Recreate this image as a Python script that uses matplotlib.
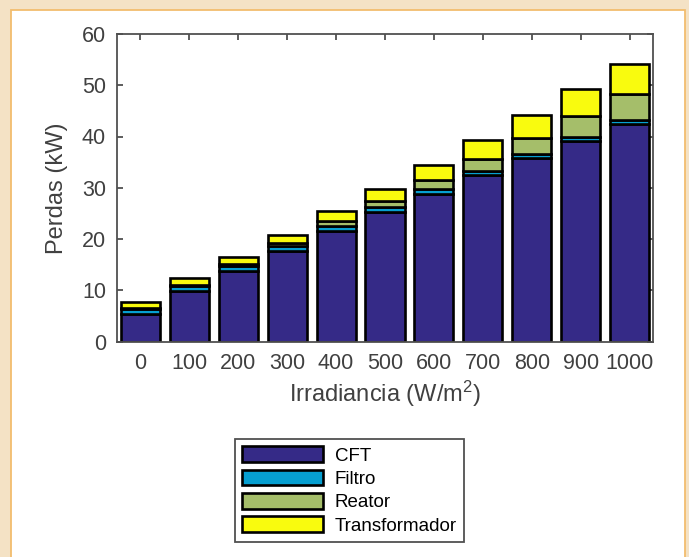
import matplotlib
matplotlib.use("Agg")
import matplotlib.pyplot as plt
from matplotlib.patches import Rectangle
import numpy as np

plt.rcParams['font.family'] = ['Liberation Sans', 'DejaVu Sans']
plt.rcParams['mathtext.fontset'] = 'custom'
plt.rcParams['mathtext.rm'] = 'Liberation Sans'
plt.rcParams['mathtext.it'] = 'Liberation Sans'
plt.rcParams['mathtext.default'] = 'regular'

# Perdas por componente (kW) para cada nível de irradiância
irradiancia = ['0', '100', '200', '300', '400', '500', '600', '700', '800', '900', '1000']
cft = [5.35, 9.9, 13.8, 17.7, 21.6, 25.2, 28.8, 32.4, 35.8, 39.1, 42.4]
filtro = [1.0, 0.9, 1.0, 1.0, 0.9, 1.0, 0.9, 0.8, 0.7, 0.8, 0.8]
reator = [0.2, 0.2, 0.3, 0.5, 1.0, 1.25, 1.8, 2.5, 3.3, 4.1, 5.0]
transformador = [1.25, 1.35, 1.4, 1.6, 1.9, 2.35, 3.0, 3.6, 4.4, 5.2, 5.9]

series = [('CFT', cft, '#352a87'),
          ('Filtro', filtro, '#069fd1'),
          ('Reator', reator, '#a5be6a'),
          ('Transformador', transformador, '#f9fb0e')]

W, H = 689, 557
fig = plt.figure(figsize=(W / 100, H / 100), dpi=100)
fig.patch.set_facecolor('#f4e2c5')

# painel branco com borda laranja
panel = Rectangle((10.5 / W, -0.02), (685 - 10.5) / W, (557 - 10) / H + 0.02,
                  transform=fig.transFigure, facecolor='white',
                  edgecolor='#f2bd6e', linewidth=1.3, zorder=-10)
fig.patches.append(panel)

ax = fig.add_axes([117 / W, 1 - 341.5 / H, (653 - 117) / W, (341.5 - 34) / H])
ax.set_zorder(5)
ax.set_facecolor('white')

x = np.arange(len(irradiancia))
bottom = np.zeros(len(x))
for name, vals, color in series:
    vals = np.array(vals)
    ax.bar(x, vals, 0.8, bottom=bottom, color=color, edgecolor='black',
           linewidth=1.9, label=name, zorder=2)
    bottom += vals

ax.set_xlim(-0.48, 10.48)
ax.set_ylim(0, 60)
ax.set_xticks(x)
ax.set_xticklabels(irradiancia)
ax.set_yticks(np.arange(0, 61, 10))

axcol = '#505050'
for s in ax.spines.values():
    s.set_color(axcol)
    s.set_linewidth(1.3)
ax.tick_params(direction='in', length=4, width=1.3, color=axcol,
               labelcolor='#404040', labelsize=15.5, top=True, right=True, pad=8)

ax.set_ylabel('Perdas (kW)', fontsize=17, color='#404040', labelpad=10)
ax.set_xlabel(r'Irradiancia (W/m$^2$)', fontsize=17, color='#404040', labelpad=4)

leg = ax.legend(loc='center', bbox_to_anchor=(349.5 / W, 1 - 490.5 / H),
                bbox_transform=fig.transFigure, fontsize=13.5, frameon=True,
                fancybox=False, framealpha=1, edgecolor=axcol,
                handlelength=4.3, handleheight=0.9, labelspacing=0.27,
                handletextpad=0.65, borderpad=0.4, borderaxespad=0)
leg.get_frame().set_linewidth(1.3)

fig.savefig('out.png', dpi=100, facecolor=fig.get_facecolor())
